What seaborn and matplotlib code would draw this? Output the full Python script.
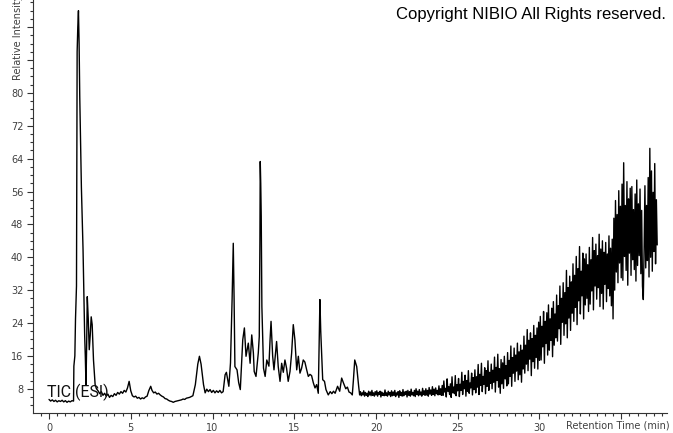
import numpy as np
import pandas as pd
import matplotlib
matplotlib.use("Agg")
import matplotlib.pyplot as plt
from matplotlib.ticker import MultipleLocator, FixedLocator
import seaborn as sns

# TIC (ESI) chromatogram
# early part: time in min and relative intensity, point by point
early_time = [0.0, 0.1, 0.2, 0.3, 0.4, 0.5, 0.6, 0.7, 0.8, 0.9, 1.0, 1.1, 1.2, 1.3, 1.4, 1.5,
              1.52, 1.58, 1.62, 1.68, 1.72, 1.76, 1.80, 1.84, 1.88,
              1.98, 2.08, 2.14, 2.18, 2.22, 2.26, 2.30, 2.34, 2.40, 2.46, 2.52, 2.58, 2.64, 2.72, 2.82,
              2.90, 3.0, 3.1, 3.2, 3.3, 3.4, 3.5, 3.6, 3.7, 3.8, 3.9, 4.0, 4.1, 4.2, 4.3, 4.4, 4.5,
              4.6, 4.7, 4.8, 4.9, 5.0, 5.1, 5.2, 5.3, 5.4, 5.5, 5.6, 5.7, 5.8, 5.9, 6.0,
              6.1, 6.22, 6.3, 6.4, 6.5, 6.6, 6.7, 6.8, 6.9, 7.0, 7.1, 7.2, 7.3, 7.4, 7.5, 7.6,
              7.7, 7.8, 7.9, 8.0, 8.1, 8.2, 8.3, 8.4, 8.5, 8.6, 8.7, 8.8,
              8.95, 9.1, 9.2, 9.3, 9.45, 9.55, 9.65, 9.75, 9.85, 9.95, 10.05, 10.15, 10.25,
              10.35, 10.45, 10.55, 10.65, 10.77, 10.85, 11.0, 11.1, 11.2, 11.27, 11.32,
              11.37, 11.5, 11.6, 11.7, 11.85, 11.95, 12.05, 12.19, 12.3, 12.4, 12.5, 12.55, 12.66,
              12.8, 12.86, 12.9, 12.92, 12.95, 12.98, 13.02, 13.12, 13.22, 13.32, 13.45, 13.52, 13.58,
              13.68, 13.76, 13.92, 14.02, 14.13, 14.23, 14.33, 14.43, 14.53, 14.63, 14.74, 14.84,
              14.94, 15.04, 15.15, 15.25, 15.35, 15.45, 15.55, 15.65, 15.76, 15.86, 15.96, 16.06,
              16.17, 16.27, 16.37, 16.47, 16.53, 16.57, 16.62, 16.74, 16.85, 16.94, 17.08, 17.2,
              17.3, 17.4, 17.5, 17.65, 17.78, 17.9, 18.03, 18.15, 18.25, 18.35, 18.45, 18.55,
              18.62, 18.7, 18.82, 18.94, 19.0]
early_value = [5.4, 5.0, 5.3, 4.9, 5.2, 4.8, 5.1, 4.9, 5.2, 4.8, 5.1, 4.7, 5.0, 4.8, 5.1, 5.0,
               13.5, 16, 25, 33, 90, 96, 100, 92, 79,
               57, 42, 30, 21, 15.8, 9.0, 18, 30.4, 25, 17.5, 21, 25.5, 23.6, 15, 9,
               8, 7.5, 6.8, 7.3, 6.4, 6.9, 6.2, 6.7, 5.9, 6.4, 6.1, 6.8, 6.4, 7.1, 6.7, 7.3, 6.9,
               7.6, 7.2, 8.2, 9.8, 7.5, 6.3, 6.0, 6.2, 5.7, 5.9, 5.5, 5.8, 5.6, 6.0, 6.2,
               7.5, 8.6, 7.6, 7.0, 7.2, 6.7, 6.9, 6.5, 6.2, 6.0, 5.6, 5.5, 5.2, 5.0, 4.9, 4.7,
               4.9, 5.0, 5.1, 5.2, 5.3, 5.5, 5.4, 5.7, 5.8, 5.9, 6.1, 6.3,
               9, 14, 15.9, 14, 9, 7.0, 7.9, 7.3, 7.8, 7.1, 7.6, 7.0, 7.5,
               7.1, 7.6, 7.0, 7.3, 11.4, 12, 8.6, 14.3, 30, 43.4, 30,
               13.4, 12.6, 9.5, 7.8, 19.9, 22.8, 15.9, 19.1, 14.2, 21.1, 16.7, 12.2, 11.0,
               16.7, 20.7, 44, 63.3, 58, 50, 28, 13, 11, 15, 13.5, 19.9, 24.4,
               15.9, 12.6, 19.5, 13.4, 9.8, 14.2, 12, 15, 13, 9.8, 12.2, 16.7,
               23.6, 19.9, 12.6, 15.9, 11.8, 13, 15, 14.5, 12.6, 11, 11.5, 11.2,
               9.4, 8.2, 9.0, 6.9, 19.9, 29.7, 22, 10.2, 9.8, 7.8, 6.5, 7.3,
               6.8, 7.4, 6.9, 8.6, 7.4, 10.6, 9.2, 8.0, 8.4, 7.2, 7.0, 6.5,
               10.2, 15, 13.4, 8.6, 6.5]

# gradient part: one reading every 0.05 min from 19.05 to 37.2 min, one row per minute
late_start = 19.05
late_step = 0.05
late_value = [
    7.3, 6.3, 7.0, 6.5, 7.5, 6.2, 7.1, 6.4, 6.9, 6.1, 7.4, 6.5, 7.2, 6.3, 7.6, 6.4, 7.0, 6.2, 7.3, 6.5,
    7.5, 6.2, 7.1, 6.6, 7.4, 6.0, 7.2, 6.4, 6.9, 6.3, 7.7, 6.4, 7.0, 6.2, 7.4, 6.5, 7.1, 6.1, 7.5, 6.3,
    7.2, 6.4, 7.6, 6.1, 7.0, 6.5, 7.3, 5.9, 7.5, 6.4, 7.1, 6.2, 7.8, 6.3, 7.2, 6.6, 7.4, 6.0, 7.6, 6.4,
    7.3, 6.2, 7.9, 6.5, 7.1, 6.3, 7.6, 6.1, 8.0, 6.6, 7.4, 6.3, 7.8, 6.5, 7.2, 6.2, 8.1, 6.6, 7.5, 6.4,
    8.0, 6.5, 7.6, 6.2, 8.3, 6.7, 7.7, 6.4, 8.5, 6.6, 7.9, 6.3, 8.2, 6.8, 7.6, 6.5, 8.7, 6.6, 8.0, 6.4,
    8.8, 6.4, 9.9, 7.2, 8.1, 6.0, 10.4, 7.4, 8.5, 6.6, 9.2, 5.9, 10.9, 7.0, 8.4, 6.8, 11.2, 6.3, 9.0, 7.5,
    10.5, 6.1, 9.1, 7.6, 12.0, 6.6, 9.8, 8.0, 11.3, 6.2, 10.0, 7.4, 12.4, 6.9, 9.4, 8.2, 11.8, 6.5, 10.7, 7.8,
    12.6, 7.0, 10.9, 8.4, 13.9, 6.6, 11.5, 8.8, 14.2, 7.3, 11.0, 9.1, 13.1, 6.8, 12.4, 8.6, 14.8, 7.6, 12.0, 9.3,
    14.0, 8.0, 12.5, 9.6, 15.7, 7.2, 13.2, 10.0, 16.4, 8.4, 12.9, 6.9, 15.1, 9.2, 14.3, 8.1, 15.9, 10.4, 13.6, 8.7,
    16.8, 9.2, 14.9, 11.0, 18.4, 8.6, 15.6, 11.8, 17.9, 9.8, 16.2, 12.3, 19.1, 10.2, 17.0, 11.4, 18.6, 9.6, 17.4, 12.8,
    20.8, 11.8, 18.6, 14.0, 22.4, 12.4, 19.8, 15.2, 21.6, 11.2, 20.2, 14.6, 23.4, 13.0, 21.0, 15.6, 22.8, 12.8, 24.2, 14.9,
    25.6, 15.0, 23.2, 18.2, 26.8, 14.2, 24.4, 19.0, 26.5, 16.2, 28.4, 17.4, 25.0, 19.8, 27.6, 15.8, 29.2, 18.6, 26.2, 20.4,
    30.8, 19.6, 28.2, 22.6, 33.0, 18.8, 30.0, 24.2, 33.8, 21.0, 31.4, 23.8, 36.8, 20.4, 32.6, 25.2, 35.4, 22.2, 34.0, 26.4,
    38.4, 24.4, 35.6, 27.8, 40.2, 23.6, 37.2, 29.4, 42.6, 26.2, 36.6, 30.6, 41.0, 25.0, 39.6, 28.4, 40.8, 30.0, 38.2, 26.8,
    42.4, 28.6, 39.4, 31.8, 44.8, 27.2, 41.6, 33.0, 43.2, 29.8, 40.4, 32.6, 45.6, 28.0, 42.0, 31.2, 44.0, 27.4, 41.2, 33.4,
    43.6, 29.2, 40.8, 32.4, 45.2, 30.6, 42.2, 28.2, 44.4, 25.0, 49.5, 32.0, 53.8, 36.4, 50.4, 33.8, 56.2, 38.6, 52.4, 35.0,
    57.8, 34.4, 63.0, 40.2, 52.6, 36.8, 58.4, 33.2, 54.2, 41.0, 56.8, 35.6, 57.2, 39.4, 51.6, 37.0, 55.4, 34.2, 58.8, 38.0,
    53.0, 40.4, 56.6, 36.0, 51.4, 33.0, 29.7, 42.0, 57.4, 37.4, 52.6, 39.2, 59.4, 35.2, 66.5, 40.0, 61.0, 36.6, 55.8, 41.4,
    62.8, 38.4, 54.0, 43.0]

x_ticks = [0, 5, 10, 15, 20, 25, 30, 35]
x_labels = ["0", "5", "10", "15", "20", "25", "30", ""]
y_ticks = [8, 16, 24, 32, 40, 48, 56, 64, 72, 80, 88, 96]
y_labels = ["8", "16", "24", "32", "40", "48", "56", "64", "72", "80", "", ""]

late_time = late_start + late_step * np.arange(len(late_value))
df = pd.DataFrame({"time": np.concatenate([early_time, late_time]),
                   "intensity": np.concatenate([early_value, late_value])})

sns.set_style("ticks")
plt.rcParams["font.family"] = ["DejaVu Sans"]

fig = plt.figure(figsize=(6.73, 4.33), dpi=100)
ax = fig.add_axes([33 / 673, 1 - 413 / 433, (667 - 33) / 673, 413 / 433])

sns.lineplot(data=df, x="time", y="intensity", ax=ax, color="black", linewidth=1.0,
             estimator=None, sort=False)

ax.set_xlim(-0.98, 37.8)
ax.set_ylim(2.1, 102.6)
ax.xaxis.set_major_locator(FixedLocator(x_ticks))
ax.set_xticklabels(x_labels)
ax.xaxis.set_minor_locator(MultipleLocator(0.5))
ax.yaxis.set_major_locator(FixedLocator(y_ticks))
ax.set_yticklabels(y_labels)
ax.yaxis.set_minor_locator(MultipleLocator(2))
ax.tick_params(which="major", length=4, width=0.8, color="#333333", labelsize=7,
               labelcolor="#404040", pad=3)
ax.tick_params(which="minor", length=2.5, width=0.8, color="#333333")
ax.set_xlabel("")
ax.set_ylabel("")
sns.despine(ax=ax)
for s in ["left", "bottom"]:
    ax.spines[s].set_linewidth(0.8)
    ax.spines[s].set_color("#333333")
ax.patch.set_alpha(0)

ax.text(47 / 673, 1 - 392 / 433, "TIC (ESI)", transform=fig.transFigure, fontsize=11.5,
        color="#111111", ha="left", va="center", family=["Roboto", "DejaVu Sans"])
fig.text(670 / 673, 1 - 426 / 433, "Retention Time (min)", fontsize=7, color="#404040",
         ha="right", va="center")
fig.text(18 / 673, 1.012, "Relative Intensity", rotation=90, fontsize=7, color="#404040",
         ha="center", va="top")
fig.text(666 / 673, 1 - 14 / 433, "Copyright NIBIO All Rights reserved.", fontsize=12,
         color="black", ha="right", va="center", family=["Liberation Sans", "DejaVu Sans"])

fig.savefig("out.png", dpi=100)
